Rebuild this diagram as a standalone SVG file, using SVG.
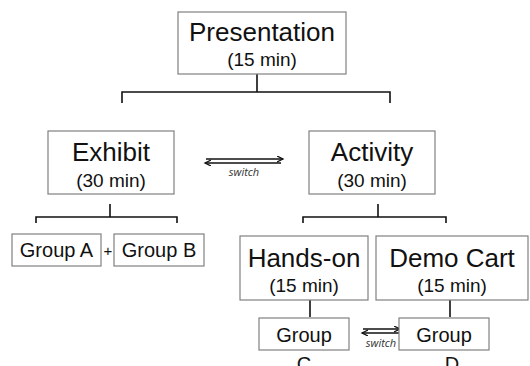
<svg xmlns="http://www.w3.org/2000/svg" width="530" height="366" viewBox="0 0 530 366">
<defs>
<style>
.box{fill:#fff;stroke:#808080;stroke-width:1.2}
.t{font-family:"Liberation Sans",Arial,sans-serif;fill:#111;text-anchor:middle}
.big{font-size:26px}
.mid{font-size:19px}
.grp{font-size:20px}
.sw{font-family:"Open Sans","DejaVu Sans",sans-serif;font-style:italic;font-size:11px;fill:#333;text-anchor:middle}
.ln{fill:none;stroke:#111;stroke-width:1.6}
.ar{fill:none;stroke:#111;stroke-width:1.4}
</style>
<marker id="ah" markerWidth="8" markerHeight="8" refX="6" refY="3" orient="auto" markerUnits="userSpaceOnUse">
<path d="M0,0 L6,3 L0,6" fill="none" stroke="#111" stroke-width="1.3"/>
</marker>
</defs>
<g id="connectors">
<path class="ln" d="M257,74 V92 M122,103 V92 H390 V103"/>
<path class="ln" d="M110,204 V217 M36,223 V217 H177 V223"/>
<path class="ln" d="M378,204 V217 M303,223 V217 H446 V223"/>
<path class="ln" d="M310,300 V317 M450,300 V317"/>
<line class="ar" x1="206" y1="159" x2="283" y2="159" marker-end="url(#ah)"/>
<line class="ar" x1="281" y1="163" x2="205" y2="163" marker-end="url(#ah)"/>
<text class="sw" x="244" y="176">switch</text>
<line class="ar" x1="363" y1="329" x2="400" y2="329" marker-end="url(#ah)"/>
<line class="ar" x1="399" y1="333" x2="362" y2="333" marker-end="url(#ah)"/>
<text class="sw" x="381" y="347">switch</text>
</g>
<g id="presentation">
<rect class="box" x="178" y="12" width="168" height="62"/>
<text class="t big" x="262" y="41">Presentation</text>
<text class="t mid" x="262" y="66">(15 min)</text>
</g>
<g id="exhibit">
<rect class="box" x="48" y="131" width="126" height="63"/>
<text class="t big" x="111" y="161">Exhibit</text>
<text class="t mid" x="111" y="187">(30 min)</text>
</g>
<g id="activity">
<rect class="box" x="309" y="131" width="126" height="63"/>
<text class="t big" x="372" y="161">Activity</text>
<text class="t mid" x="372" y="187">(30 min)</text>
</g>
<g id="groupA">
<rect class="box" x="12" y="234" width="89" height="32"/>
<text class="t grp" x="56.5" y="257">Group A</text>
</g>
<text class="t grp" x="108" y="256" style="font-size:15px">+</text>
<g id="groupB">
<rect class="box" x="114" y="234" width="90" height="32"/>
<text class="t grp" x="159" y="257">Group B</text>
</g>
<g id="handson">
<rect class="box" x="240" y="236" width="128" height="64"/>
<text class="t big" x="304" y="267">Hands-on</text>
<text class="t mid" x="304" y="292">(15 min)</text>
</g>
<g id="democart">
<rect class="box" x="376" y="236" width="152" height="64"/>
<text class="t big" x="452" y="267">Demo Cart</text>
<text class="t mid" x="452" y="292">(15 min)</text>
</g>
<g id="groupC">
<rect class="box" x="259" y="318" width="90" height="32"/>
<text class="t grp" x="304" y="342">Group</text>
<text class="t grp" x="304" y="371">C</text>
</g>
<g id="groupD">
<rect class="box" x="399" y="318" width="90" height="32"/>
<text class="t grp" x="444" y="342">Group</text>
<text class="t grp" x="452" y="371">D</text>
</g>
</svg>
